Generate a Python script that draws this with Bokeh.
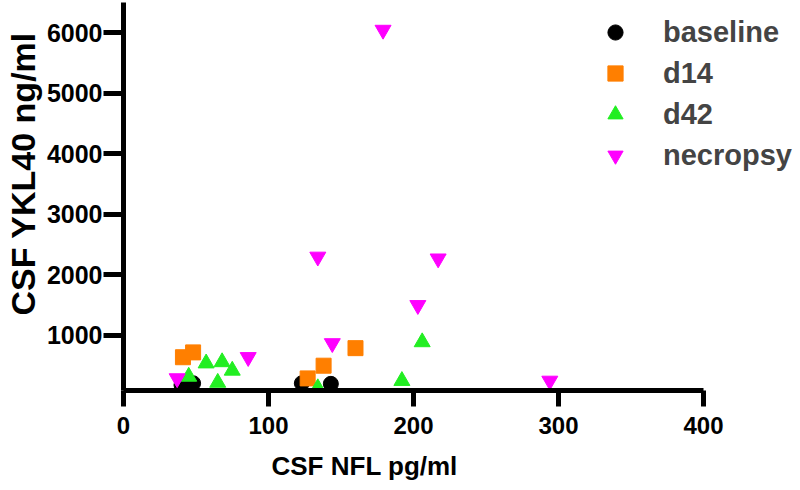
from bokeh.plotting import figure
from bokeh.models import Range1d, Legend, LegendItem, FixedTicker, Title
from bokeh.embed import file_html
from bokeh.resources import INLINE

# ---- data ----
baseline_x = [40, 44, 48, 123, 143]
baseline_y = [180, 200, 210, 210, 200]

d14_x = [41, 48, 127, 138, 160]
d14_y = [640, 720, 290, 500, 790]

d42_x = [45, 57, 65, 68, 75, 134, 192, 206]
d42_y = [320, 540, 220, 560, 420, 130, 250, 890]

necropsy_x = [37, 86, 134, 144, 179, 203, 217, 294]
necropsy_y = [290, 640, 2300, 870, 6050, 1500, 2270, 250]

x_ticks = [0, 100, 200, 300, 400]
y_ticks = [1000, 2000, 3000, 4000, 5000, 6000]
x_label = "CSF NFL pg/ml"
y_label = "CSF YKL40 ng/ml"

FONT = "Liberation Sans"

p = figure(frame_width=677, frame_height=388, output_backend="svg",
           toolbar_location=None,
           x_range=Range1d(0, 466.9), y_range=Range1d(90, 6503),
           min_border_left=123, min_border_right=0, min_border_top=2,
           min_border_bottom=98)
p.outline_line_color = None
p.grid.visible = False
p.background_fill_color = "white"
p.border_fill_color = "white"

r1 = p.scatter(baseline_x, baseline_y, marker="circle", size=15,
               fill_color="black", line_color="black")
r2 = p.scatter(d14_x, d14_y, marker="square", size=15,
               fill_color="#FF7F00", line_color="#FF7F00")
r3 = p.scatter(d42_x, d42_y, marker="triangle", size=16,
               fill_color="#22EE22", line_color="#22EE22")
r4 = p.scatter(necropsy_x, necropsy_y, marker="inverted_triangle", size=16,
               fill_color="#FF00FF", line_color="#FF00FF")

for ax in (p.xaxis[0], p.yaxis[0]):
    ax.axis_line_width = 5
    ax.axis_line_color = "black"
    ax.major_tick_line_width = 5
    ax.major_tick_line_color = "black"
    ax.major_tick_in = 0
    ax.minor_tick_line_color = None
    ax.major_label_text_font = FONT
    ax.major_label_text_font_style = "bold"
    ax.major_label_text_color = "black"

xa = p.xaxis[0]
ya = p.yaxis[0]
xa.ticker = FixedTicker(ticks=x_ticks)
ya.ticker = FixedTicker(ticks=y_ticks)
xa.bounds = (0, 400)
xa.major_label_text_font_size = "24px"
ya.major_label_text_font_size = "25px"
xa.major_tick_out = 16
ya.major_tick_out = 20
xa.major_label_standoff = 10
ya.major_label_standoff = 1

# axis titles placed as panel titles so they centre on the 0-400 axis span
xt = Title(text=x_label, align="left", offset=148, standoff=25,
           text_font=FONT, text_font_style="bold", text_font_size="26px",
           text_color="black")
p.add_layout(xt, "below")
yt = Title(text=y_label, align="left", offset=75, standoff=3,
           text_font=FONT, text_font_style="bold", text_font_size="34px",
           text_color="black")
p.add_layout(yt, "left")

legend = Legend(items=[LegendItem(label="baseline", renderers=[r1]),
                       LegendItem(label="d14", renderers=[r2]),
                       LegendItem(label="d42", renderers=[r3]),
                       LegendItem(label="necropsy", renderers=[r4])],
                location=(473, 216), padding=0, margin=0, spacing=3,
                glyph_width=38, glyph_height=38, label_height=38,
                label_standoff=29, label_text_font=FONT,
                label_text_font_style="bold", label_text_font_size="29px",
                border_line_color=None, background_fill_alpha=0)
p.add_layout(legend)

open("out.html", "w").write(file_html(p, INLINE))
